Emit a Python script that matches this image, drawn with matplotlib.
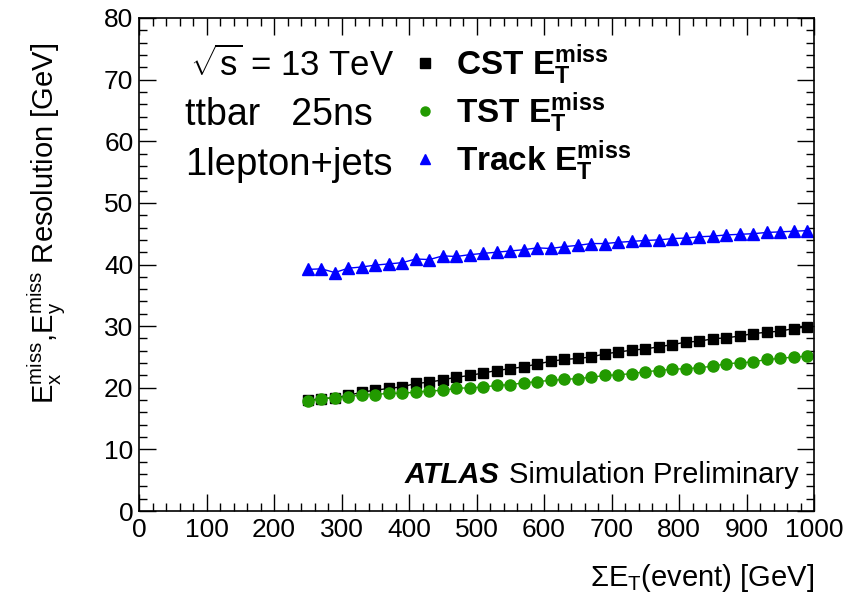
import numpy as np
import matplotlib
matplotlib.use("Agg")
import matplotlib.pyplot as plt
from matplotlib.ticker import MultipleLocator
from matplotlib.lines import Line2D

plt.rcParams['font.family'] = ['Liberation Sans', 'DejaVu Sans']
plt.rcParams['mathtext.fontset'] = 'custom'
plt.rcParams['mathtext.rm'] = 'Liberation Sans'
plt.rcParams['mathtext.it'] = 'Liberation Sans:italic'
plt.rcParams['mathtext.bf'] = 'Liberation Sans:bold'

# sum Et bin centres [GeV]
sumet = [250, 270, 290, 310, 330, 350, 370, 390, 410, 430, 450, 470, 490,
         510, 530, 550, 570, 590, 610, 630, 650, 670, 690, 710, 730, 750,
         770, 790, 810, 830, 850, 870, 890, 910, 930, 950, 970, 990]

# resolution [GeV]
cst = [18.0, 18.2, 18.4, 18.75, 19.3, 19.6, 19.9, 20.15, 20.7, 20.9, 21.3,
       21.7, 22.0, 22.4, 22.8, 23.1, 23.4, 23.85, 24.3, 24.6, 24.75, 25.0,
       25.5, 25.8, 26.1, 26.3, 26.65, 27.0, 27.4, 27.55, 27.95, 28.1, 28.4,
       28.8, 29.0, 29.2, 29.6, 29.9]
tst = [17.8, 18.2, 18.4, 18.5, 18.9, 18.9, 19.1, 19.1, 19.3, 19.45, 19.6,
       19.9, 20.0, 20.1, 20.4, 20.5, 20.8, 21.0, 21.2, 21.35, 21.5, 21.7,
       22.0, 22.1, 22.3, 22.6, 22.8, 23.0, 23.1, 23.25, 23.5, 23.9, 24.05,
       24.2, 24.6, 24.75, 25.0, 25.1]
trk = [39.2, 39.3, 38.7, 39.4, 39.6, 39.9, 40.1, 40.3, 40.9, 40.8, 41.4,
       41.3, 41.6, 41.8, 42.0, 42.2, 42.4, 42.7, 42.6, 42.9, 43.1, 43.4,
       43.4, 43.6, 43.75, 43.9, 44.0, 44.2, 44.3, 44.5, 44.6, 44.8, 44.9,
       45.0, 45.2, 45.3, 45.4, 45.5]

fig = plt.figure(figsize=(8.56, 5.94), dpi=100)
ax = fig.add_axes([0.1624, 0.1397, 0.7886, 0.83])

ax.plot(sumet, trk, '-', color='blue', lw=1, marker='^', ms=8)
ax.plot(sumet, cst, '-', color='black', lw=1, marker='s', ms=7.5)
ax.plot(sumet, tst, '-', color='#229a00', lw=1, marker='o', ms=8)

ax.set_xlim(0, 1000)
ax.set_ylim(0, 80)
ax.xaxis.set_major_locator(MultipleLocator(100))
ax.xaxis.set_minor_locator(MultipleLocator(20))
ax.yaxis.set_major_locator(MultipleLocator(10))
ax.yaxis.set_minor_locator(MultipleLocator(2))
ax.tick_params(which='both', direction='in', top=True, right=True,
               labelsize=19, width=1)
ax.tick_params(which='major', length=12)
ax.tick_params(which='minor', length=6)
ax.tick_params(axis='x', pad=5)
ax.tick_params(axis='y', pad=4)
for s in ax.spines.values():
    s.set_linewidth(1.2)

ax.set_xlabel(r'$\Sigma$E$_\mathrm{T}$(event) [GeV]', fontsize=21, loc='right')
ax.xaxis.set_label_coords(1.0, -0.136)
ax.xaxis.label.set_va('center')
ax.set_ylabel(r'E$_\mathrm{x}^\mathrm{miss}$,E$_\mathrm{y}^\mathrm{miss}$ Resolution [GeV]',
              fontsize=21, loc='top')
ax.yaxis.set_label_coords(-0.137, 0.95)
ax.yaxis.label.set_va('center')

ax.text(0.075, 0.905, r'$\sqrt{\mathrm{s}}$ = 13 TeV', transform=ax.transAxes,
        fontsize=25, va='center')
ax.text(0.068, 0.803, 'ttbar   25ns', transform=ax.transAxes, fontsize=27, va='center')
ax.text(0.068, 0.702, '1lepton+jets', transform=ax.transAxes, fontsize=27.5, va='center')

handles = [Line2D([], [], ls='none', marker='s', color='black', ms=6.5),
           Line2D([], [], ls='none', marker='o', color='#229a00', ms=6.5),
           Line2D([], [], ls='none', marker='^', color='blue', ms=6.5)]
labels = [r'CST $\mathbf{E}_\mathbf{T}^\mathbf{miss}$',
          r'TST $\mathbf{E}_\mathbf{T}^\mathbf{miss}$',
          r'Track $\mathbf{E}_\mathbf{T}^\mathbf{miss}$']
leg = ax.legend(handles, labels, loc='upper left', bbox_to_anchor=(0.354, 1.012),
                frameon=False, prop={'size': 24, 'weight': 'bold'},
                handlelength=1.0, handletextpad=0.45, labelspacing=0.1)

ax.text(0.394, 0.073, 'ATLAS', transform=ax.transAxes, fontsize=21,
        fontweight='bold', fontstyle='italic', va='center')
ax.text(0.548, 0.073, 'Simulation Preliminary', transform=ax.transAxes,
        fontsize=21, va='center')

fig.savefig('out.png', dpi=100)
